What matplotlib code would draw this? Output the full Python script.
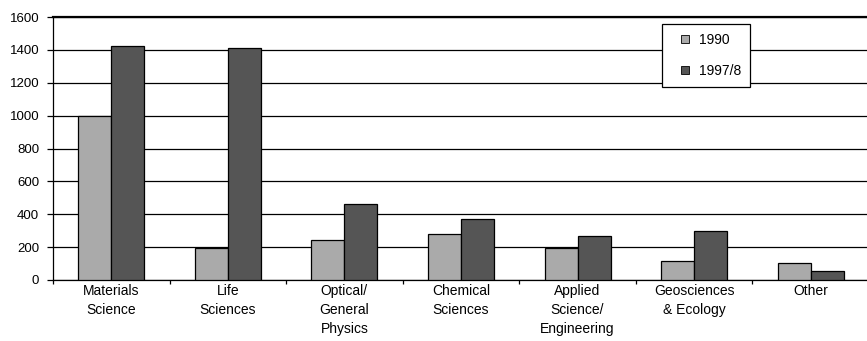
import matplotlib
matplotlib.use("Agg")
import matplotlib.pyplot as plt
from matplotlib.lines import Line2D
import numpy as np

categories = ["Materials\nScience", "Life\nSciences", "Optical/\nGeneral\nPhysics",
              "Chemical\nSciences", "Applied\nScience/\nEngineering",
              "Geosciences\n& Ecology", "Other"]
values_1990 = [1000, 195, 245, 282, 195, 117, 101]
values_1997 = [1425, 1410, 460, 373, 266, 298, 55]
series_labels = ["1990", "1997/8"]
series_colors = ["#aaaaaa", "#555555"]
y_ticks = [0, 200, 400, 600, 800, 1000, 1200, 1400, 1600]

plt.rcParams["font.family"] = ["Liberation Sans", "DejaVu Sans"]

fig = plt.figure(figsize=(8.67, 3.41), dpi=100)
ax = fig.add_axes([53 / 867, 1 - 280 / 341, 816 / 867, 263 / 341])

x = np.arange(len(categories))
w = 0.283
ax.bar(x - w / 2, values_1990, w, color=series_colors[0], edgecolor="black",
       linewidth=0.9, zorder=3)
ax.bar(x + w / 2, values_1997, w, color=series_colors[1], edgecolor="black",
       linewidth=0.9, zorder=3)

ax.set_xlim(-0.5, len(categories) - 0.5)
ax.set_ylim(0, 1600)
ax.set_yticks(y_ticks)
ax.set_yticklabels([str(v) for v in y_ticks], fontsize=9.5)
ax.yaxis.grid(True, color="black", linewidth=0.9, zorder=0)
ax.set_axisbelow(True)

ax.set_xticks(np.arange(len(categories) + 1) - 0.5)
ax.set_xticklabels([])
ax.set_xticks(x, minor=True)
ax.set_xticklabels(categories, minor=True, fontsize=10, linespacing=1.45)
ax.tick_params(axis="x", which="minor", length=0, pad=3)
ax.tick_params(axis="x", which="major", length=3, direction="out", width=0.9)
ax.tick_params(axis="y", length=4, direction="out", width=0.9, pad=6)

ax.spines["right"].set_visible(False)
ax.spines["top"].set_linewidth(1.6)
ax.spines["left"].set_linewidth(0.9)
ax.spines["bottom"].set_linewidth(0.9)

# small square swatches for the legend
handles = [Line2D([], [], linestyle="none", marker="s", markersize=5.6,
                  markerfacecolor=c, markeredgecolor="black", markeredgewidth=0.6)
           for c in series_colors]
leg = ax.legend(handles, series_labels, loc="upper left",
                bbox_to_anchor=((662 - 53) / 816, (280 - 24) / 263),
                fontsize=10, frameon=True, fancybox=False, edgecolor="black",
                handlelength=2.0, handletextpad=0.0,
                labelspacing=1.2, borderpad=0.65, borderaxespad=0)
leg.get_frame().set_linewidth(0.9)
leg.get_frame().set_facecolor("white")
leg.get_frame().set_alpha(1)
leg.set_zorder(5)

fig.savefig("out.png", dpi=100)
